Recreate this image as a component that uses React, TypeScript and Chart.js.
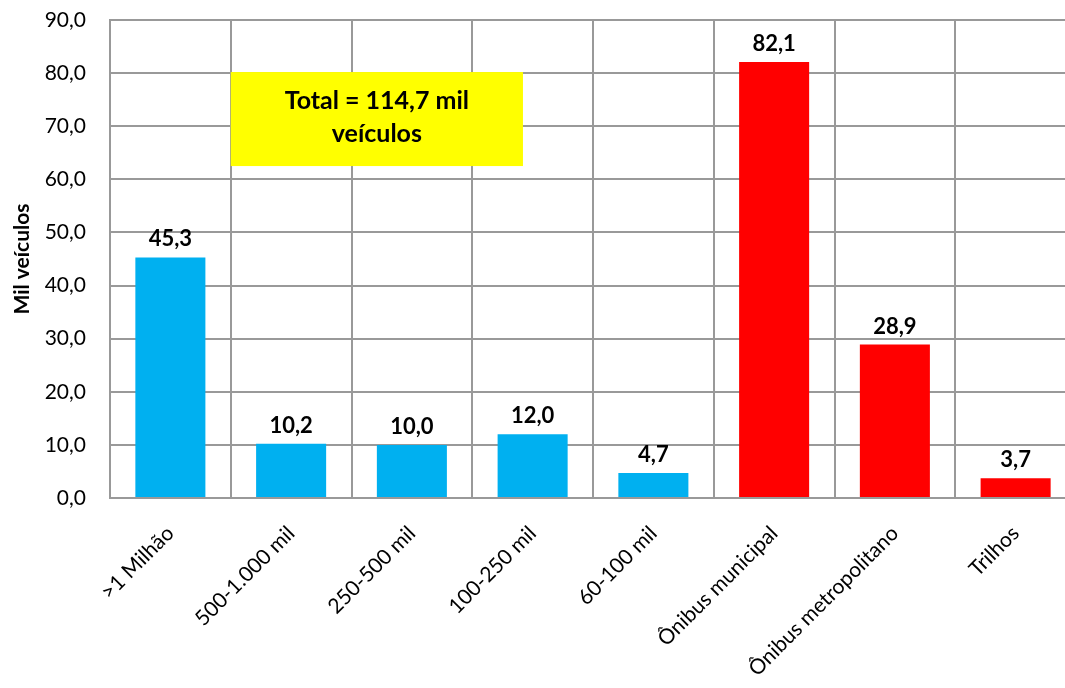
import React, { useEffect, useRef } from "react";
import { Chart, registerables } from "chart.js";

Chart.register(...registerables);

const categories = [
  ">1 Milhão",
  "500-1.000 mil",
  "250-500 mil",
  "100-250 mil",
  "60-100 mil",
  "Ônibus municipal",
  "Ônibus metropolitano",
  "Trilhos",
];
const values = [45.3, 10.2, 10.0, 12.0, 4.7, 82.1, 28.9, 3.7];
const barColors = ["#00B0F0", "#00B0F0", "#00B0F0", "#00B0F0", "#00B0F0", "#FF0000", "#FF0000", "#FF0000"];
const yMin = 0;
const yMax = 90;
const yStep = 10;
const yTitle = "Mil veículos";
const boxLines = ["Total = 114,7 mil", "veículos"];
// annotation box extents in data units (category index, value)
const boxX = [0.5, 2.92];
const boxY = [62.5, 80.2];

const FONT = "Lato, 'Noto Sans', sans-serif";
const fmt = (v: number) => v.toFixed(1).replace(".", ",");

const CANVAS_W = 1090;
const CANVAS_H = 688;

const labelsPlugin = {
  id: "barLabels",
  afterDatasetsDraw(chart: any) {
    const ctx = chart.ctx;
    const meta = chart.getDatasetMeta(0);
    ctx.save();
    ctx.font = `bold 22px ${FONT}`;
    ctx.fillStyle = "#000";
    ctx.textAlign = "center";
    ctx.textBaseline = "alphabetic";
    meta.data.forEach((el: any, i: number) => {
      ctx.fillText(fmt(values[i]), el.x, el.y - 11);
    });
    ctx.restore();
  },
};

const boxPlugin = {
  id: "totalBox",
  afterDatasetsDraw(chart: any) {
    const { ctx, scales } = chart;
    const x = scales.x;
    const y = scales.y;
    const x0 = x.getPixelForValue(boxX[0]);
    const x1 = x.getPixelForValue(boxX[1]);
    const y0 = y.getPixelForValue(boxY[1]);
    const y1 = y.getPixelForValue(boxY[0]);
    ctx.save();
    ctx.fillStyle = "#FFFF00";
    ctx.fillRect(x0, y0, x1 - x0, y1 - y0);
    ctx.fillStyle = "#000";
    ctx.font = `bold 25px ${FONT}`;
    ctx.textAlign = "center";
    ctx.textBaseline = "middle";
    const cx = (x0 + x1) / 2;
    const cy = (y0 + y1) / 2 - 2;
    const lh = 33;
    boxLines.forEach((t, i) => {
      ctx.fillText(t, cx, cy + (i - (boxLines.length - 1) / 2) * lh);
    });
    ctx.restore();
  },
};

export default function App() {
  const ref = useRef<HTMLCanvasElement | null>(null);
  useEffect(() => {
    if (!ref.current) return;
    const chart = new Chart(ref.current, {
      type: "bar",
      data: {
        labels: categories,
        datasets: [
          {
            data: values,
            backgroundColor: barColors,
            borderWidth: 0,
            categoryPercentage: 1,
            barPercentage: 0.58,
          },
        ],
      },
      options: {
        responsive: false,
        animation: false,
        layout: { padding: { top: 20, right: CANVAS_W - 1076, left: 0, bottom: 0 } },
        plugins: { legend: { display: false }, tooltip: { enabled: false } },
        scales: {
          x: {
            grid: { color: "#999", lineWidth: 2, drawTicks: false, offset: true },
            border: { color: "#999", width: 2 },
            ticks: {
              color: "#000",
              font: { family: FONT, size: 21 },
              minRotation: 45,
              maxRotation: 45,
              padding: 23,
              autoSkip: false,
            },
            afterFit: (s: any) => {
              s.height = CANVAS_H - 498;
              s.paddingLeft = 0;
              s.paddingRight = 0;
            },
          },
          y: {
            min: yMin,
            max: yMax,
            grid: { color: "#999", lineWidth: 2, drawTicks: false },
            border: { color: "#999", width: 2 },
            ticks: {
              stepSize: yStep,
              color: "#000",
              font: { family: FONT, size: 21 },
              padding: 24,
              callback: (v: any) => fmt(Number(v)),
            },
            title: {
              display: true,
              text: yTitle,
              color: "#000",
              font: { family: FONT, size: 21, weight: "bold" },
              padding: { top: 10, bottom: 0 },
            },
            afterFit: (s: any) => {
              s.width = 110;
              s.paddingTop = 0;
              s.paddingBottom = 0;
            },
          },
        },
      },
      plugins: [labelsPlugin, boxPlugin],
    });
    return () => chart.destroy();
  }, []);
  return (
    <div style={{ position: "fixed", left: 0, top: 0, width: 1065, height: 688, overflow: "hidden", background: "#fff" }}>
      <canvas ref={ref} width={CANVAS_W} height={CANVAS_H} style={{ width: CANVAS_W, height: CANVAS_H }} />
    </div>
  );
}
